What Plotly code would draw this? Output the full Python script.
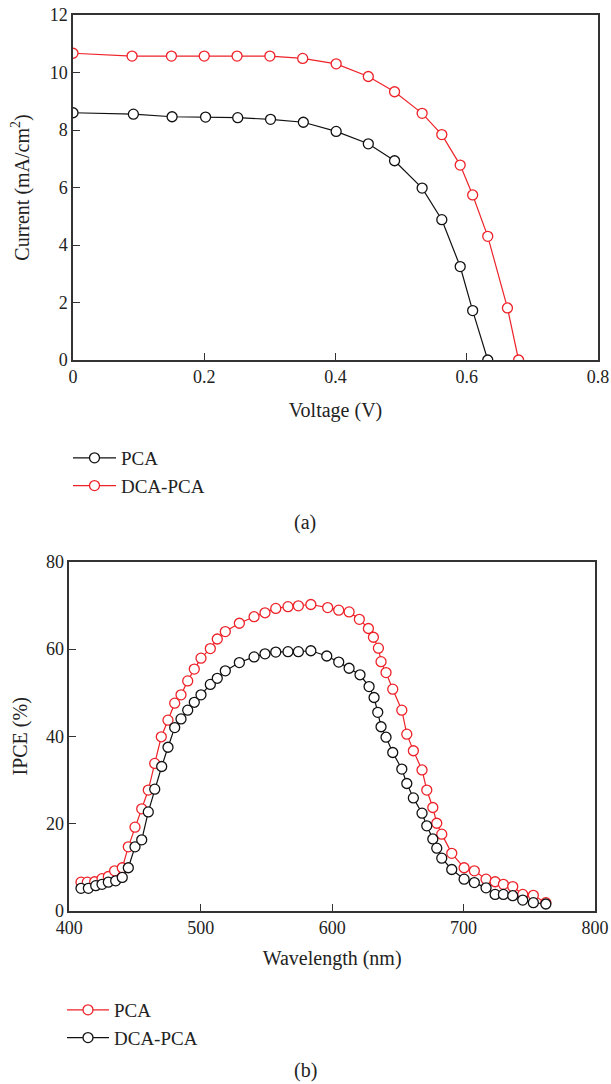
import plotly.graph_objects as go

# ---- Panel (a): J-V curves ----
voltage_pca = [0.0, 0.092, 0.151, 0.202, 0.251, 0.301, 0.351, 0.401, 0.450, 0.490, 0.532, 0.562, 0.590, 0.609, 0.632]
current_pca = [8.60, 8.55, 8.46, 8.45, 8.43, 8.37, 8.27, 7.95, 7.52, 6.93, 5.98, 4.88, 3.25, 1.72, 0.0]
voltage_dca = [0.0, 0.090, 0.150, 0.200, 0.250, 0.300, 0.350, 0.401, 0.450, 0.490, 0.532, 0.562, 0.590, 0.609, 0.632, 0.662, 0.679]
current_dca = [10.67, 10.57, 10.57, 10.57, 10.57, 10.57, 10.49, 10.30, 9.86, 9.33, 8.58, 7.84, 6.78, 5.74, 4.30, 1.81, 0.0]

# ---- Panel (b): IPCE spectra ----
wl_pca = [408.9, 413.7, 419.3, 424.9, 429.7, 434.5, 440.3, 444.9, 450.0, 455.1, 460.1, 465.0, 470.0, 475.1,
          480.2, 485.0, 490.1, 495.1, 500.2, 507.3, 512.6, 518.7, 529.4, 540.6, 548.9, 557.1, 566.4, 574.3,
          583.8, 596.6, 605.0, 612.9, 620.7, 627.6, 631.4, 635.2, 637.2, 641.0, 646.1, 653.0, 656.8, 661.8,
          668.4, 672.0, 676.6, 679.6, 683.4, 691.0, 700.4, 708.2, 717.1, 724.0, 730.3, 737.4, 745.0, 753.1, 762.6]
ipce_pca = [6.6, 6.6, 6.7, 7.4, 7.9, 9.2, 9.9, 14.7, 19.2, 23.4, 27.7, 33.8, 39.9, 43.7,
            47.6, 49.5, 52.7, 55.4, 57.9, 60.1, 62.3, 64.0, 65.9, 67.4, 68.3, 69.3, 69.7, 69.9,
            70.2, 69.5, 68.9, 68.5, 66.8, 64.7, 62.7, 60.2, 57.1, 54.6, 50.8, 46.0, 40.5, 36.7,
            32.3, 27.7, 23.7, 20.1, 17.6, 13.2, 9.9, 9.2, 7.3, 6.7, 6.1, 5.6, 3.8, 3.6, 1.9]
wl_dca = [408.9, 414.5, 420.1, 424.9, 429.7, 435.3, 440.3, 444.9, 450.0, 455.1, 460.1, 465.0, 470.3, 475.1,
          480.2, 485.0, 490.1, 495.1, 500.2, 507.3, 512.6, 518.7, 529.4, 540.6, 548.9, 557.1, 566.4, 574.3,
          583.8, 595.9, 605.0, 612.9, 621.2, 628.1, 631.9, 634.7, 637.2, 641.0, 646.1, 653.0, 656.8, 661.8,
          668.4, 672.0, 676.6, 679.6, 683.4, 691.0, 700.4, 708.2, 717.1, 724.0, 730.3, 737.4, 745.0, 753.1, 762.6]
ipce_dca = [5.2, 5.2, 5.8, 6.1, 6.6, 6.9, 7.7, 9.9, 14.7, 16.3, 22.7, 27.9, 33.1, 37.5,
            42.0, 44.0, 46.0, 47.8, 49.5, 51.9, 53.3, 55.0, 56.9, 58.2, 58.9, 59.3, 59.4, 59.4,
            59.6, 58.4, 57.0, 55.6, 54.1, 51.4, 48.9, 45.5, 42.2, 39.8, 36.3, 32.5, 29.2, 25.9,
            22.4, 19.5, 16.5, 14.4, 12.1, 9.5, 7.3, 6.5, 5.3, 3.8, 3.8, 3.5, 2.5, 1.9, 1.6]

RED = "#ee2229"
BLACK = "#111111"
FONT = "Liberation Serif"
W, H = 611, 1084


def px(x):
    return x / W


def py(y):
    return 1 - y / H


def mk(color):
    return dict(symbol="circle", size=10, color="white", line=dict(color=color, width=1.3))


fig = go.Figure()
fig.add_trace(go.Scatter(x=voltage_pca, y=current_pca, mode="lines+markers", name="PCA",
                         line=dict(color=BLACK, width=1.2), marker=mk(BLACK),
                         xaxis="x", yaxis="y", legend="legend"))
fig.add_trace(go.Scatter(x=voltage_dca, y=current_dca, mode="lines+markers", name="DCA-PCA",
                         line=dict(color=RED, width=1.2), marker=mk(RED),
                         xaxis="x", yaxis="y", legend="legend"))
fig.add_trace(go.Scatter(x=wl_pca, y=ipce_pca, mode="lines+markers", name="PCA",
                         line=dict(color=RED, width=1.2), marker=mk(RED),
                         xaxis="x2", yaxis="y2", legend="legend2"))
fig.add_trace(go.Scatter(x=wl_dca, y=ipce_dca, mode="lines+markers", name="DCA-PCA",
                         line=dict(color=BLACK, width=1.2), marker=mk(BLACK),
                         xaxis="x2", yaxis="y2", legend="legend2"))

axis_common = dict(showline=True, mirror=True, linecolor="#333333", linewidth=1.5,
                   ticks="inside", ticklen=7, tickwidth=1.2, tickcolor="#333333",
                   showgrid=False, zeroline=False, automargin=False,
                   ticklabeloverflow="allow",
                   tickfont=dict(family=FONT, size=18, color="#222222"))
TF = dict(family=FONT, size=20, color="#222222")

fig.update_layout(
    width=W, height=H,
    margin=dict(l=0, r=0, t=0, b=0, autoexpand=False),
    paper_bgcolor="white", plot_bgcolor="white",
    font=dict(family=FONT, size=18, color="#222222"),
    xaxis=dict(domain=[px(73), px(598)], range=[0, 0.8], tickvals=[0, 0.2, 0.4, 0.6, 0.8],
               ticktext=["0", "0.2", "0.4", "0.6", "0.8"], anchor="y",
               title=dict(text="Voltage (V)", font=TF, standoff=17),
               **axis_common),
    yaxis=dict(domain=[py(360), py(15)], range=[0, 12], dtick=2, anchor="x",
               title=dict(text="Current (mA/cm<sup>2</sup>)", font=TF, standoff=15),
               **axis_common),
    xaxis2=dict(domain=[px(69.3), px(595)], range=[400, 800], dtick=100, anchor="y2",
                title=dict(text="Wavelength (nm)", font=TF, standoff=14),
                **axis_common),
    yaxis2=dict(domain=[py(911), py(561.7)], range=[0, 80], dtick=20, anchor="x2",
                title=dict(text="IPCE (%)", font=TF, standoff=13),
                **axis_common),
    legend=dict(x=px(68), y=py(439), xanchor="left", yanchor="top",
                bgcolor="rgba(0,0,0,0)", font=dict(family=FONT, size=19, color="#222222"),
                tracegroupgap=0, itemwidth=43),
    legend2=dict(x=px(62), y=py(991), xanchor="left", yanchor="top",
                 bgcolor="rgba(0,0,0,0)", font=dict(family=FONT, size=19, color="#222222"),
                 tracegroupgap=0, itemwidth=42),
    showlegend=True,
    annotations=[
        dict(text="(a)", x=px(305), y=py(522), xref="paper", yref="paper",
             xanchor="center", yanchor="middle", showarrow=False, font=TF),
        dict(text="(b)", x=px(305), y=py(1070), xref="paper", yref="paper",
             xanchor="center", yanchor="middle", showarrow=False, font=TF),
    ],
)

fig.write_html("out.html", config={"displayModeBar": False},
               post_script="document.body.style.margin='0px';document.body.style.overflow='hidden';")
